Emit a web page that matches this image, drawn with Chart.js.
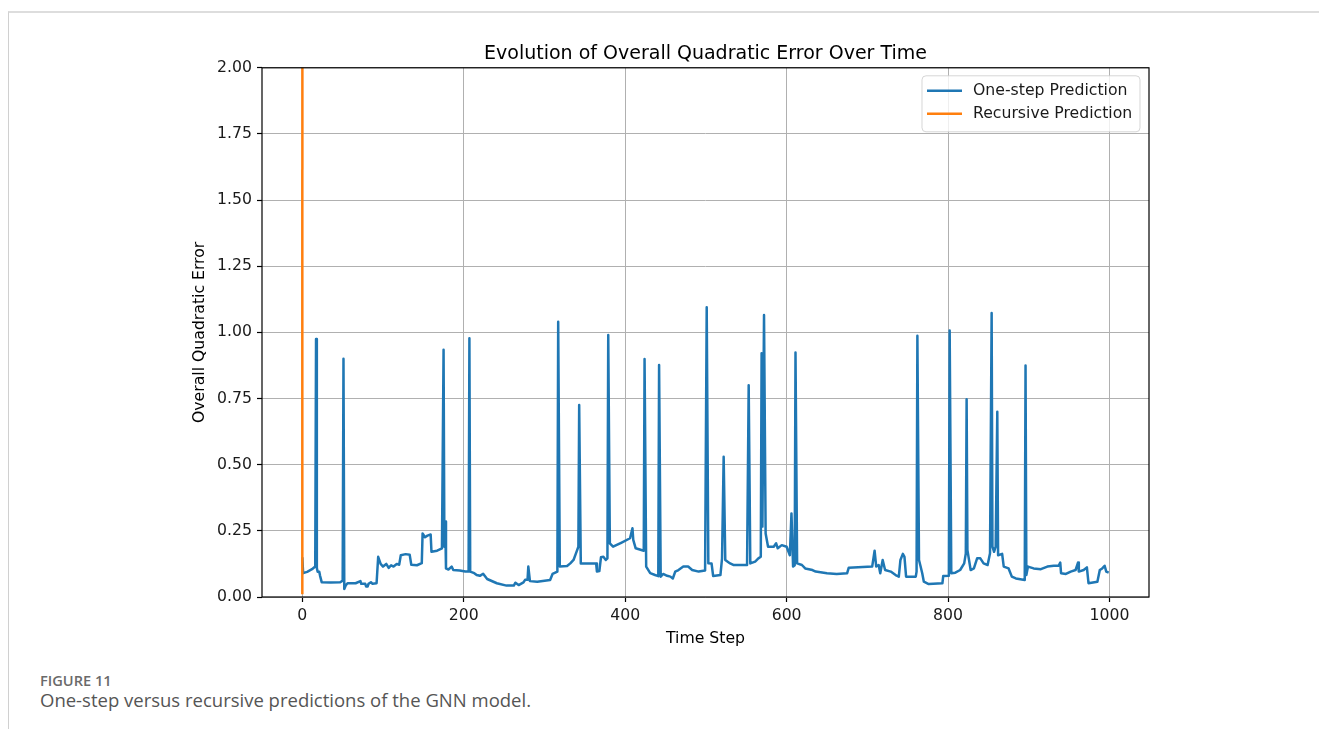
<!DOCTYPE html>
<html>
<head>
<meta charset="utf-8">
<title>Evolution of Overall Quadratic Error Over Time</title>
<script src="https://cdn.jsdelivr.net/npm/chart.js@4.4.1/dist/chart.umd.min.js"></script>
<style>
  html, body { margin: 0; padding: 0; background: #fff; }
  body { width: 1319px; height: 729px; position: relative; overflow: hidden; }
  .card { position: absolute; left: 8px; top: 11px; right: 0; bottom: 0; border-top: 2px solid #dddddd; border-left: 1px solid #d0d0d0; }
  #wrap { position: absolute; left: 0; top: 0; width: 1319px; height: 660px; }
  .caption { position: absolute; left: 40px; top: 671px; font-family: "Open Sans", "Noto Sans", sans-serif; color: #5a5a5a; }
  .caption .fig { font-size: 14.6px; font-weight: 600; color: #6a6a6a; line-height: 19px; }
  .caption .txt { font-size: 18.5px; line-height: 20px; color: #555; }
</style>
</head>
<body>
<div class="card"></div>
<div id="wrap"><canvas id="errorChart" width="1319" height="660"></canvas></div>
<div class="caption">
  <div class="fig">FIGURE 11</div>
  <div class="txt">One-step versus recursive predictions of the GNN model.</div>
</div>
<script>
// time steps and error of the one-step predictor
const timeSteps = [
  0, 1, 6, 12, 16, 17, 18, 19, 21, 22, 24, 35, 47, 50, 51, 52, 54, 56, 66, 72,
  73, 78, 79, 81, 82, 85, 87, 92, 94, 97, 100, 104, 107, 110, 113, 117, 120, 122, 128, 133,
  135, 142, 148, 149, 152, 155, 159, 160, 167, 173, 175, 176, 177, 178, 181, 185, 187, 195, 202, 206,
  207, 208, 213, 216, 220, 224, 229, 241, 253, 262, 264, 268, 274, 276, 279, 280, 282, 291, 307, 310,
  316, 317, 319, 328, 332, 336, 339, 342, 343, 345, 364, 365, 368, 370, 373, 376, 378, 379, 381, 385,
  395, 406, 409, 410, 413, 423, 424, 426, 431, 437, 441, 442, 444, 447, 452, 456, 459, 462, 466, 472,
  478, 483, 491, 499, 501, 503, 507, 509, 518, 520, 522, 524, 530, 534, 551, 553, 555, 561, 565, 568,
  569, 570, 572, 574, 577, 584, 587, 589, 594, 600, 604, 606, 608, 610, 611, 613, 619, 623, 632, 636,
  650, 662, 675, 677, 706, 709, 711, 714, 716, 719, 722, 729, 735, 739, 741, 744, 746, 748, 760, 761,
  762, 764, 766, 768, 770, 776, 793, 794, 801, 802, 804, 809, 815, 820, 822, 823, 824, 828, 832, 836,
  840, 844, 849, 852, 854, 855, 857, 859, 861, 862, 867, 869, 875, 879, 884, 895, 896, 897, 899, 906,
  915, 923, 931, 937, 939, 940, 946, 952, 958, 961, 962, 968, 972, 974, 985, 988, 991, 994, 996, 999
];
const oneStepError = [
  0.15, 0.09, 0.095, 0.105, 0.115, 0.975, 0.11, 0.095, 0.095, 0.08, 0.056, 0.055, 0.056, 0.062, 0.90, 0.03, 0.045, 0.052, 0.052, 0.06,
  0.05, 0.05, 0.04, 0.04, 0.05, 0.056, 0.05, 0.052, 0.152, 0.125, 0.115, 0.125, 0.11, 0.12, 0.115, 0.125, 0.122, 0.158, 0.162, 0.16,
  0.122, 0.12, 0.128, 0.24, 0.226, 0.232, 0.236, 0.171, 0.175, 0.184, 0.934, 0.19, 0.285, 0.108, 0.104, 0.115, 0.102, 0.10, 0.096, 0.096,
  0.978, 0.096, 0.09, 0.083, 0.08, 0.088, 0.068, 0.052, 0.043, 0.043, 0.054, 0.045, 0.055, 0.065, 0.065, 0.115, 0.06, 0.058, 0.064, 0.087,
  0.096, 1.04, 0.115, 0.117, 0.127, 0.14, 0.165, 0.19, 0.726, 0.127, 0.127, 0.096, 0.098, 0.15, 0.152, 0.14, 0.146, 0.99, 0.203, 0.19,
  0.205, 0.222, 0.26, 0.216, 0.184, 0.175, 0.899, 0.115, 0.09, 0.083, 0.079, 0.877, 0.077, 0.087, 0.08, 0.077, 0.07, 0.096, 0.102, 0.115,
  0.115, 0.102, 0.096, 0.10, 1.095, 0.128, 0.127, 0.079, 0.083, 0.146, 0.53, 0.14, 0.127, 0.121, 0.121, 0.80, 0.127, 0.134, 0.146, 0.152,
  0.921, 0.266, 1.066, 0.24, 0.19, 0.19, 0.203, 0.184, 0.196, 0.19, 0.158, 0.316, 0.115, 0.12, 0.924, 0.127, 0.121, 0.108, 0.102, 0.096,
  0.09, 0.087, 0.09, 0.111, 0.115, 0.175, 0.115, 0.121, 0.09, 0.14, 0.102, 0.096, 0.083, 0.077, 0.14, 0.163, 0.152, 0.077, 0.077, 0.096,
  0.987, 0.14, 0.115, 0.09, 0.058, 0.049, 0.052, 0.079, 0.08, 1.007, 0.09, 0.092, 0.102, 0.127, 0.165, 0.747, 0.177, 0.102, 0.108, 0.146,
  0.146, 0.127, 0.121, 0.165, 1.073, 0.19, 0.171, 0.19, 0.70, 0.158, 0.163, 0.115, 0.108, 0.077, 0.07, 0.064, 0.875, 0.083, 0.115, 0.108,
  0.105, 0.115, 0.118, 0.118, 0.13, 0.09, 0.087, 0.096, 0.102, 0.13, 0.096, 0.102, 0.112, 0.052, 0.058, 0.102, 0.108, 0.118, 0.096, 0.092
];

// recursive predictor blows up right after the first step
const recursiveSteps = [0, 1];
const recursiveError = [0.01, 45];

const xTicks = [0, 200, 400, 600, 800, 1000];
const yTicks = [0, 0.25, 0.5, 0.75, 1, 1.25, 1.5, 1.75, 2];

const toPoints = (xs, ys) => xs.map((x, i) => ({ x: x, y: ys[i] }));

Chart.defaults.font.family = '"DejaVu Sans", sans-serif';
Chart.defaults.font.size = 15.7;
Chart.defaults.color = '#1a1a1a';

// box around the plot area plus a framed legend in the upper right
const frameAndLegend = {
  id: 'frameAndLegend',
  afterDatasetsDraw(chart) {
    const { ctx, chartArea: a } = chart;
    ctx.save();
    ctx.strokeStyle = '#000';
    ctx.lineWidth = 1.2;
    ctx.strokeRect(a.left, a.top, a.right - a.left, a.bottom - a.top);

    const w = 218, h = 56;
    const x = a.right - 9 - w, y = a.top + 8;
    ctx.beginPath();
    ctx.roundRect(x, y, w, h, 4);
    ctx.fillStyle = 'rgba(255,255,255,0.8)';
    ctx.fill();
    ctx.strokeStyle = 'rgba(204,204,204,0.8)';
    ctx.lineWidth = 1;
    ctx.stroke();

    ctx.font = '15.7px "DejaVu Sans"';
    ctx.textBaseline = 'middle';
    chart.data.datasets.forEach((ds, i) => {
      const cy = y + 15 + i * 23;
      ctx.beginPath();
      ctx.moveTo(x + 5, cy);
      ctx.lineTo(x + 40, cy);
      ctx.strokeStyle = ds.borderColor;
      ctx.lineWidth = 2.5;
      ctx.stroke();
      ctx.fillStyle = '#1a1a1a';
      ctx.fillText(ds.label, x + 51, cy);
    });
    ctx.restore();
  }
};

const ctx = document.getElementById('errorChart').getContext('2d');
new Chart(ctx, {
  type: 'line',
  data: {
    datasets: [
      {
        label: 'One-step Prediction',
        data: toPoints(timeSteps, oneStepError),
        borderColor: '#1f77b4',
        borderWidth: 2.5,
        borderJoinStyle: 'round',
        pointRadius: 0,
        tension: 0,
        order: 1
      },
      {
        label: 'Recursive Prediction',
        data: toPoints(recursiveSteps, recursiveError),
        borderColor: '#ff7f0e',
        borderWidth: 2.5,
        pointRadius: 0,
        tension: 0,
        order: 0
      }
    ]
  },
  options: {
    responsive: false,
    animation: false,
    layout: { padding: { left: 162, right: 170, top: 0, bottom: 12 } },
    plugins: {
      legend: { display: false },
      tooltip: { enabled: false },
      title: {
        display: true,
        text: 'Evolution of Overall Quadratic Error Over Time',
        fullSize: false,
        color: '#000',
        font: { size: 19, weight: 'normal' },
        padding: { top: 43, bottom: 2 }
      }
    },
    scales: {
      x: {
        type: 'linear',
        min: -49.95,
        max: 1048.95,
        afterBuildTicks: s => { s.ticks = xTicks.map(v => ({ value: v })); },
        afterFit: s => { s.height = 51; },
        ticks: { padding: 5, color: '#1a1a1a', callback: v => String(v) },
        grid: { color: '#b0b0b0', lineWidth: 1, tickLength: 5, tickColor: '#000', tickWidth: 1.2 },
        border: { display: false },
        title: { display: true, text: 'Time Step', color: '#000', padding: { top: 0, bottom: 0 } }
      },
      y: {
        min: 0,
        max: 2,
        afterBuildTicks: s => { s.ticks = yTicks.map(v => ({ value: v })); },
        afterFit: s => { s.width = 100; },
        ticks: { padding: 5, color: '#1a1a1a', callback: v => v.toFixed(2) },
        grid: { color: '#b0b0b0', lineWidth: 1, tickLength: 5, tickColor: '#000', tickWidth: 1.2 },
        border: { display: false },
        title: { display: true, text: 'Overall Quadratic Error', color: '#000', padding: { top: 29, bottom: 0 } }
      }
    }
  },
  plugins: [frameAndLegend]
});
</script>
</body>
</html>
